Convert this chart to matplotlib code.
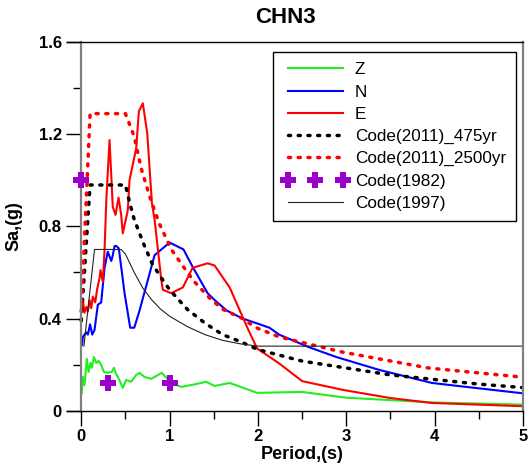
import matplotlib
matplotlib.use('Agg')
import matplotlib.pyplot as plt
from matplotlib.ticker import MultipleLocator, FuncFormatter

plt.rcParams['font.family'] = ['Liberation Sans', 'DejaVu Sans']

# Z component
z_t = [0.007, 0.018, 0.037, 0.063, 0.083, 0.105, 0.12, 0.143, 0.17, 0.196, 0.226, 0.256,
       0.30, 0.346, 0.369, 0.388, 0.425, 0.47, 0.509, 0.566, 0.622, 0.66, 0.716, 0.792,
       0.912, 1.018, 1.13, 1.26, 1.414, 1.51, 1.68, 1.99, 2.5, 3.0, 4.0, 5.0]
z_sa = [0.077, 0.146, 0.11, 0.225, 0.168, 0.207, 0.186, 0.233, 0.207, 0.216, 0.198, 0.168,
        0.164, 0.168, 0.186, 0.164, 0.138, 0.099, 0.133, 0.125, 0.155, 0.164, 0.146, 0.138,
        0.164, 0.12, 0.103, 0.112, 0.125, 0.107, 0.12, 0.077, 0.081, 0.056, 0.035, 0.026]

# N component
n_t = [0.01, 0.018, 0.037, 0.057, 0.075, 0.10, 0.124, 0.15, 0.188, 0.226, 0.238, 0.264,
       0.30, 0.34, 0.357, 0.377, 0.396, 0.425, 0.49, 0.554, 0.60, 0.66, 0.83, 1.0,
       1.157, 1.26, 1.43, 1.51, 1.645, 1.825, 1.98, 2.13, 2.24, 2.58, 2.885, 3.37,
       3.97, 4.355, 5.0]
n_sa = [0.285, 0.32, 0.33, 0.34, 0.33, 0.375, 0.33, 0.35, 0.46, 0.47, 0.52, 0.62,
        0.69, 0.65, 0.675, 0.715, 0.715, 0.705, 0.51, 0.36, 0.36, 0.435, 0.675, 0.73,
        0.70, 0.625, 0.51, 0.48, 0.435, 0.40, 0.38, 0.36, 0.33, 0.275, 0.233, 0.177,
        0.12, 0.103, 0.075]

# E component
e_t = [0.007, 0.018, 0.037, 0.057, 0.075, 0.094, 0.113, 0.131, 0.158, 0.181, 0.207, 0.218,
       0.244, 0.264, 0.283, 0.32, 0.357, 0.388, 0.422, 0.452, 0.47, 0.527, 0.546, 0.622,
       0.652, 0.697, 0.747, 0.80, 0.83, 0.905, 0.923, 1.018, 1.15, 1.26, 1.43, 1.51,
       1.68, 1.88, 1.99, 2.24, 2.50, 2.96, 3.49, 3.97, 5.0]
e_sa = [0.435, 0.48, 0.425, 0.45, 0.43, 0.48, 0.445, 0.495, 0.47, 0.53, 0.575, 0.61,
        0.56, 0.70, 0.91, 1.175, 0.885, 0.85, 0.925, 0.85, 0.77, 0.87, 1.0, 1.14,
        1.30, 1.335, 1.205, 0.90, 0.83, 0.57, 0.525, 0.51, 0.535, 0.62, 0.64, 0.63,
        0.535, 0.36, 0.27, 0.205, 0.128, 0.09, 0.055, 0.033, 0.019]

# Code(2011) 475 yr
c475_t = [0.0, 0.1, 0.5, 0.55, 0.6, 0.7, 0.8, 0.9, 1.0, 1.2, 1.4, 1.6, 1.8, 2.0,
          2.5, 3.0, 3.5, 4.0, 4.5, 5.0]
c475_sa = [0.39, 0.98, 0.98, 0.90, 0.83, 0.73, 0.64, 0.58, 0.525, 0.44, 0.38, 0.33, 0.30, 0.265,
           0.215, 0.185, 0.155, 0.135, 0.115, 0.10]

# Code(2011) 2500 yr
c2500_t = [0.0, 0.1, 0.5, 0.6, 0.68, 0.77, 0.88, 1.02, 1.146, 1.28, 1.45, 1.60, 1.825, 1.98,
           2.24, 2.945, 3.93, 5.0]
c2500_sa = [0.43, 1.29, 1.29, 1.19, 1.05, 0.935, 0.815, 0.70, 0.63, 0.56, 0.49, 0.44, 0.40, 0.36,
            0.32, 0.255, 0.185, 0.145]

# Code(1982)
c1982_t = [0.0, 0.3, 1.0]
c1982_sa = [1.0, 0.12, 0.12]

# Code(1997)
c1997_t = [0.03, 0.15, 0.45, 0.5, 0.6, 0.7, 0.8, 0.9, 1.0, 1.2, 1.4, 1.6, 1.8, 2.0, 5.0]
c1997_sa = [0.28, 0.70, 0.70, 0.68, 0.60, 0.53, 0.48, 0.44, 0.41, 0.365, 0.33, 0.305, 0.29, 0.28, 0.28]

fig = plt.figure(figsize=(5.29, 4.75), dpi=100)
ax = fig.add_axes([0.1267, 0.1356, 0.862, 0.7754])

ax.plot(z_t, z_sa, color='#22ee22', lw=1.5, label='Z')
ax.plot(n_t, n_sa, color='#0000ff', lw=1.5, label='N')
ax.plot(e_t, e_sa, color='#ff0000', lw=1.5, label='E')
ax.plot(c475_t, c475_sa, color='black', lw=2.5, dashes=(0.6, 2.2),
        dash_capstyle='round', label='Code(2011)_475yr')
ax.plot(c2500_t, c2500_sa, color='#ff0000', lw=2.5, dashes=(0.6, 2.2),
        dash_capstyle='round', label='Code(2011)_2500yr')
ax.plot(c1982_t, c1982_sa, ls='none', marker='P', ms=12, color='#9900cc',
        markeredgewidth=0, label='Code(1982)', zorder=5, clip_on=False)
ax.plot(c1997_t, c1997_sa, color='#222222', lw=0.8, label='Code(1997)')

ax.set_xlim(-0.161, 5)
ax.set_ylim(0, 1.6)

ax.spines['left'].set_position(('data', 0))
ax.spines['left'].set_color('#808080')
ax.spines['left'].set_linewidth(1.6)
ax.spines['right'].set_color('#808080')
ax.spines['right'].set_linewidth(1.6)
ax.spines['top'].set_linewidth(1.0)
ax.spines['bottom'].set_linewidth(1.0)

ax.xaxis.set_major_locator(MultipleLocator(1))
ax.xaxis.set_minor_locator(MultipleLocator(0.5))
ax.yaxis.set_major_locator(MultipleLocator(0.4))
ax.yaxis.set_minor_locator(MultipleLocator(0.2))
ax.yaxis.set_major_formatter(FuncFormatter(lambda v, p: '0' if v == 0 else '%.1f' % v))
ax.tick_params(which='major', direction='out', length=10.5, width=1.0, color='black')
ax.tick_params(which='minor', direction='out', length=5.5, width=1.0, color='black')
ax.tick_params(axis='x', which='major', pad=3)
for lab in ax.get_xticklabels() + ax.get_yticklabels():
    lab.set_fontweight('bold')
    lab.set_fontsize(12)

ax.set_title('CHN3', fontsize=16, fontweight='bold', pad=14, x=0.48)
ax.set_xlabel('Period,(s)', fontsize=13, fontweight='bold')
ax.xaxis.set_label_coords(0.515, -0.095)
ax.set_ylabel('Sa,(g)', fontsize=13, fontweight='bold')
ax.yaxis.set_label_coords(-0.097, 0.5)

leg = ax.legend(loc='upper right', bbox_to_anchor=(0.985, 0.973), fontsize=12.3,
                numpoints=3, handlelength=3.8, handletextpad=0.4, labelspacing=0.42,
                borderpad=0.6, borderaxespad=0, fancybox=False, framealpha=1)
leg.get_frame().set_edgecolor('black')
leg.get_frame().set_linewidth(1.0)

fig.savefig('out.png', dpi=100)
